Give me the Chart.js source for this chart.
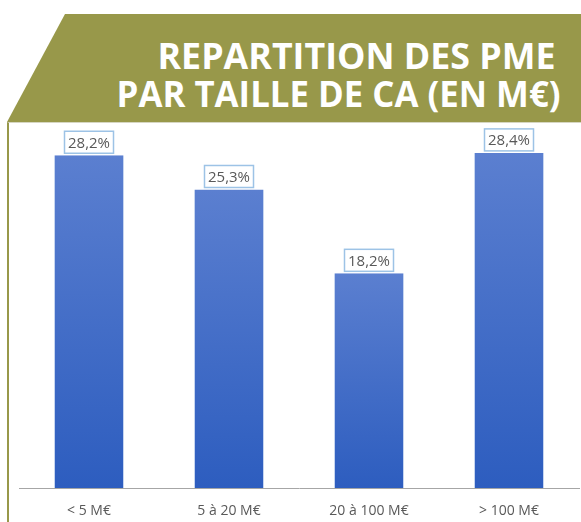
<!DOCTYPE html>
<html>
<head>
<meta charset="utf-8">
<script src="https://cdn.jsdelivr.net/npm/chart.js@4/dist/chart.umd.min.js"></script>
<style>
  html, body { margin: 0; padding: 0; background: #fff; }
  #page { position: relative; width: 581px; height: 522px; overflow: hidden; background: #fff; }
  #banner {
    position: absolute; left: 0; top: 14px; width: 581px; height: 108px;
    background: #98984a;
    clip-path: polygon(65px 0, 581px 0, 581px 108px, 7px 108px);
  }
  #panel {
    position: absolute; left: 7px; top: 122px; width: 574px; height: 400px;
    border-left: 2px solid #98984a; border-top: 1px solid #d6d6c2;
    box-sizing: border-box;
  }
  .title {
    position: absolute; font-family: "Open Sans", sans-serif; font-weight: 700;
    font-size: 35px; color: #fff; white-space: nowrap; line-height: 1;
    transform-origin: right center;
  }
  canvas { position: absolute; left: 0; top: 0; }
</style>
</head>
<body>
<div id="page">
  <div id="banner"></div>
  <div id="panel"></div>
  <div class="title" id="t1">REPARTITION DES PME</div>
  <div class="title" id="t2">PAR TAILLE DE CA (EN M€)</div>
  <canvas id="chart" width="581" height="522"></canvas>
</div>
<script>
const categories = ['< 5 M€', '5 à 20 M€', '20 à 100 M€', '> 100 M€'];
const shares = [28.2, 25.3, 18.2, 28.4];
const shareLabels = ['28,2%', '25,3%', '18,2%', '28,4%'];

// title lines: right edge and width
function placeTitle(id, right, top, width) {
  const el = document.getElementById(id);
  const w = el.getBoundingClientRect().width;
  el.style.left = (right - w) + 'px';
  el.style.top = top + 'px';
  el.style.transform = 'scaleX(' + (width / w) + ')';
}

const labelBoxes = {
  id: 'labelBoxes',
  afterDatasetsDraw(chart) {
    const ctx = chart.ctx;
    const meta = chart.getDatasetMeta(0);
    ctx.save();
    ctx.font = '15px "Open Sans"';
    meta.data.forEach((bar, i) => {
      const text = shareLabels[i];
      const w = ctx.measureText(text).width + 7;
      const h = 22;
      const x = bar.x - w / 2;
      const y = bar.y - 2 - h;
      ctx.fillStyle = '#fff';
      ctx.fillRect(x, y, w, h);
      ctx.strokeStyle = '#9dc3e6';
      ctx.lineWidth = 1.5;
      ctx.strokeRect(x, y, w, h);
      ctx.fillStyle = '#595959';
      ctx.textAlign = 'center';
      ctx.textBaseline = 'middle';
      ctx.fillText(text, bar.x, y + h / 2 + 1);
    });
    ctx.restore();
  }
};

function barFill(c) {
  const chart = c.chart;
  if (!chart.chartArea) return '#3f6cc6';
  const y = chart.scales.y;
  const top = y.getPixelForValue(shares[c.dataIndex]);
  const base = y.getPixelForValue(0);
  const g = chart.ctx.createLinearGradient(0, top, 0, base);
  g.addColorStop(0, '#5b7fd0');
  g.addColorStop(1, '#2d5dbf');
  return g;
}

document.fonts.load('700 35px "Open Sans"').then(() => document.fonts.load('15px "Open Sans"')).then(() => {
  placeTitle('t1', 556, 38, 398);
  placeTitle('t2', 561, 76, 444);

  new Chart(document.getElementById('chart'), {
    type: 'bar',
    data: {
      labels: categories,
      datasets: [{
        data: shares,
        backgroundColor: barFill,
        borderColor: 'rgba(160,185,230,0.6)',
        borderWidth: { left: 1, right: 1, top: 0, bottom: 0 },
        barPercentage: 0.5,
        categoryPercentage: 1
      }]
    },
    options: {
      responsive: false,
      animation: false,
      layout: { padding: { top: 134, left: 19, right: 2, bottom: -11 } },
      plugins: { legend: { display: false }, tooltip: { enabled: false } },
      scales: {
        y: { display: false, min: 0, max: 30 },
        x: {
          grid: { display: false, drawTicks: false },
          border: { display: true, color: '#a6a6a6', width: 1 },
          ticks: { color: '#595959', padding: 14, font: { family: 'Open Sans', size: 14 } }
        }
      }
    },
    plugins: [labelBoxes]
  });
});
</script>
</body>
</html>
